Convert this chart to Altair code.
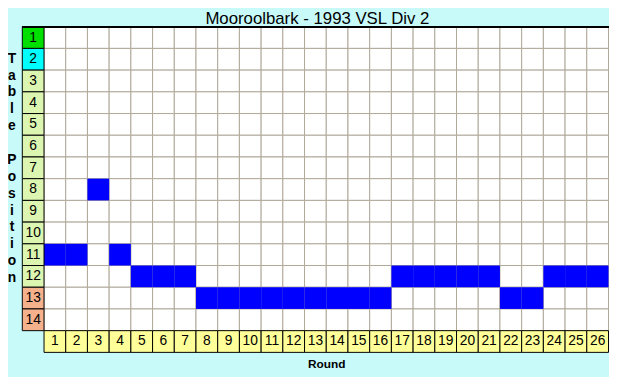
import altair as alt
import pandas as pd

# ---- data ----
rounds = list(range(1, 27))
positions = [11, 11, 8, 11, 12, 12, 12, 13, 13, 13, 13, 13, 13, 13, 13, 13,
             12, 12, 12, 12, 12, 13, 13, 12, 12, 12]
table_rows = list(range(1, 15))
zones = ["Champion", "Promoted"] + ["Mid"] * 10 + ["Relegated"] * 2
zone_names = ["Champion", "Promoted", "Mid", "Relegated"]
title_text = "Mooroolbark - 1993 VSL Div 2"
x_title = "Round"
y_title = "Table Position"

# ---- styles ----
FONT = "Liberation Sans"
BG = "#c8fafa"
GRID = "#b0a898"
zone_colors = ["#00e000", "#00ffff", "#dcf5b0", "#f5b08c"]
ROUND_FILL = "#ffff99"
BLUE = "#0000ff"

grid_df = pd.DataFrame([{"round": r, "pos": p} for r in rounds for p in table_rows])
path_df = pd.DataFrame({"round": rounds, "pos": positions})
rowlab_df = pd.DataFrame({"pos": table_rows, "zone": zones})
roundlab_df = pd.DataFrame({"round": rounds})

# vertical stacked axis title, one letter per line (blank kept as a blank glyph)
y_title_lines = [c if c != " " else "\u2800" for c in y_title]

xs = alt.Scale(domain=[-0.5, 26.5], nice=False, zero=False)
ys = alt.Scale(domain=[0.5, 15.5], reverse=True, nice=False, zero=False)

xax = alt.Axis(labels=False, ticks=False, domain=False, grid=False,
               title=x_title, titleX=308, titleY=15, titleAlign="center",
               titleBaseline="alphabetic", titleFontSize=12,
               titleFontWeight="bold", titleFont=FONT, titleColor="black")
yax = alt.Axis(labels=False, ticks=False, domain=False, grid=False,
               title=y_title_lines, titleAngle=0, titleX=-11, titleY=36,
               titleAlign="center", titleBaseline="alphabetic",
               titleLineHeight=17.1, titleFontSize=14,
               titleFontWeight="bold", titleFont=FONT, titleColor="black")


def cell_calc(ch):
    return ch.transform_calculate(
        x1="datum.round - 0.5", x2="datum.round + 0.5",
        y1="datum.pos - 0.5", y2="datum.pos + 0.5")


grid = cell_calc(alt.Chart(grid_df)).mark_rect(
    fill="white", stroke=GRID, strokeWidth=1).encode(
    x=alt.X("x1:Q", scale=xs, axis=xax), x2="x2:Q",
    y=alt.Y("y1:Q", scale=ys, axis=yax), y2="y2:Q")

path = cell_calc(alt.Chart(path_df)).mark_rect(
    fill=BLUE, strokeWidth=0).encode(
    x=alt.X("x1:Q", scale=xs, axis=xax), x2="x2:Q",
    y=alt.Y("y1:Q", scale=ys, axis=yax), y2="y2:Q")

rowlab = alt.Chart(rowlab_df).transform_calculate(
    y1="datum.pos - 0.5", y2="datum.pos + 0.5").mark_rect(
    stroke="black", strokeWidth=1).encode(
    x=alt.X(datum=-0.5, scale=xs, axis=xax), x2=alt.X2(datum=0.5),
    y=alt.Y("y1:Q", scale=ys, axis=yax), y2="y2:Q",
    fill=alt.Fill("zone:N", scale=alt.Scale(domain=zone_names, range=zone_colors),
                  legend=None))

rowtext = alt.Chart(rowlab_df).mark_text(
    font=FONT, fontSize=14, color="black", align="center", baseline="middle").encode(
    x=alt.X(datum=0, scale=xs, axis=xax),
    y=alt.Y("pos:Q", scale=ys, axis=yax),
    text="pos:Q")

roundlab = alt.Chart(roundlab_df).transform_calculate(
    x1="datum.round - 0.5", x2="datum.round + 0.5").mark_rect(
    fill=ROUND_FILL, stroke="black", strokeWidth=1).encode(
    x=alt.X("x1:Q", scale=xs, axis=xax), x2="x2:Q",
    y=alt.Y(datum=14.5, scale=ys, axis=yax), y2=alt.Y2(datum=15.5))

roundtext = alt.Chart(roundlab_df).mark_text(
    font=FONT, fontSize=14, color="black", align="center", baseline="middle").encode(
    x=alt.X("round:Q", scale=xs, axis=xax),
    y=alt.Y(datum=15, scale=ys, axis=yax),
    text="round:Q")

topline = alt.Chart(roundlab_df).mark_rule(color="black", strokeWidth=1).encode(
    x=alt.X(datum=-0.5, scale=xs, axis=xax), x2=alt.X2(datum=26.5),
    y=alt.Y(datum=0.5, scale=ys, axis=yax))

chart = alt.layer(grid, path, rowlab, rowtext, roundlab, roundtext, topline).properties(
    width=594, height=330,
    title=alt.Title(title_text, fontSize=17, font=FONT, fontWeight="normal",
                    color="black", anchor="middle", dx=2, dy=21, offset=6,
                    baseline="alphabetic"),
    background=BG,
    padding={"left": 14.5, "top": 16.5, "right": 0.5, "bottom": 22.5},
    autosize=alt.AutoSizeParams(type="none"),
).configure_view(stroke=None)

chart.save("out.html", embed_options={"renderer": "svg", "actions": False})
